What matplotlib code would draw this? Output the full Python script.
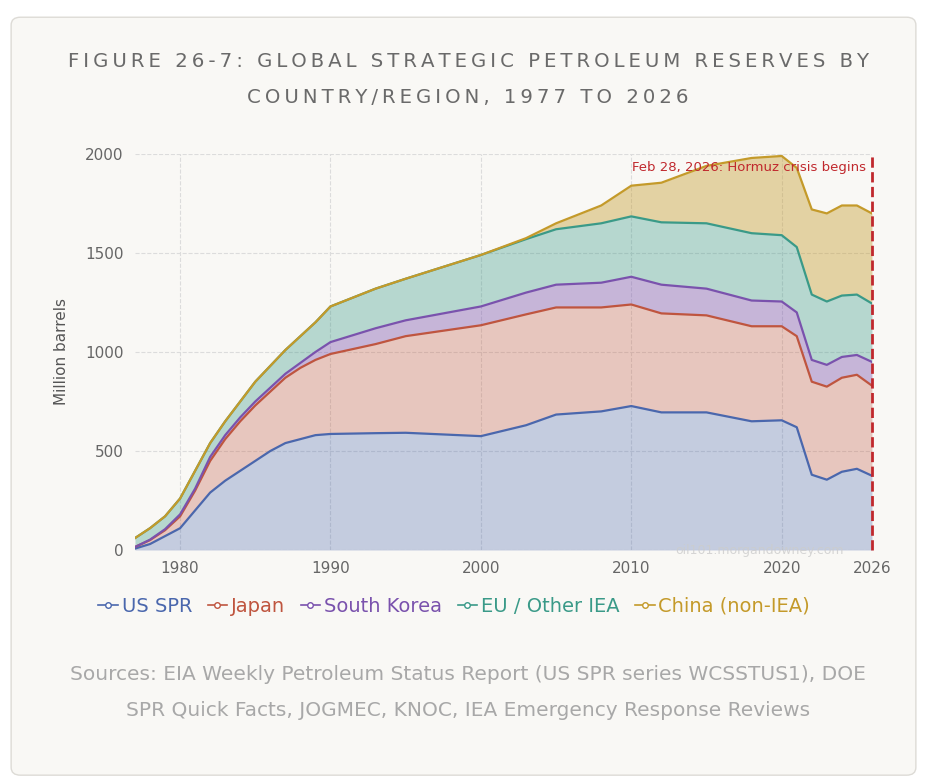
import matplotlib
matplotlib.use("Agg")
import matplotlib.pyplot as plt
from matplotlib.lines import Line2D
from matplotlib.patches import FancyBboxPatch
import numpy as np

years = [1977, 1978, 1979, 1980, 1981, 1982, 1983, 1984, 1985, 1986, 1987, 1988, 1989, 1990,
         1993, 1995, 2000, 2003, 2005, 2008, 2010, 2012, 2015, 2018, 2020, 2021, 2022, 2023,
         2024, 2025, 2026]
us_spr = [7, 30, 70, 110, 200, 290, 350, 400, 450, 500, 540, 560, 580, 586, 590, 592, 575, 630,
          684, 700, 727, 695, 695, 650, 655, 620, 380, 355, 395, 410, 375]
japan = [8, 20, 30, 60, 100, 160, 210, 250, 280, 300, 330, 360, 380, 404, 450, 488, 560, 560,
         541, 525, 513, 500, 490, 480, 475, 460, 470, 470, 475, 475, 455]
south_korea = [0, 2, 5, 10, 10, 20, 20, 20, 20, 20, 20, 25, 40, 60, 80, 80, 95, 110, 115, 125,
               140, 145, 135, 130, 125, 120, 110, 110, 105, 100, 120]
eu_other = [45, 58, 65, 80, 90, 70, 70, 80, 100, 110, 120, 135, 150, 180, 200, 210, 260, 270,
            280, 300, 305, 315, 330, 340, 335, 330, 330, 320, 310, 305, 295]
china = [0, 0, 0, 0, 0, 0, 0, 0, 0, 0, 0, 0, 0, 0, 0, 0, 0, 5, 30, 90, 155, 200, 290, 380, 400,
         400, 430, 445, 455, 450, 455]

labels = ["US SPR", "Japan", "South Korea", "EU / Other IEA", "China (non-IEA)"]
colors = ["#4a67ad", "#bf553f", "#7a52ad", "#3a9a88", "#c49a2a"]
fill_alpha = [0.3, 0.3, 0.4, 0.35, 0.4]

fig = plt.figure(figsize=(9.27, 7.83), dpi=100)
fig.patch.set_facecolor("white")
fig.patches.append(FancyBboxPatch((0.012, 0.01), 0.976, 0.968, boxstyle="round,pad=0,rounding_size=0.01",
                                  transform=fig.transFigure, facecolor="#f9f8f5",
                                  edgecolor="#dddbd6", lw=1, zorder=-1))

ax = fig.add_axes([0.1456, 0.2976, 0.795, 0.5057])
ax.set_facecolor("#f9f8f5")

x = np.array(years)
stack = np.cumsum(np.array([us_spr, japan, south_korea, eu_other, china]), axis=0)
prev = np.zeros(len(x))
for i, (lab, c) in enumerate(zip(labels, colors)):
    ax.fill_between(x, prev, stack[i], color=c, alpha=fill_alpha[i], lw=0)
    ax.plot(x, stack[i], color=c, lw=1.6)
    prev = stack[i]

ax.set_xlim(1977, 2026)
ax.set_ylim(0, 2000)
ax.set_xticks([1980, 1990, 2000, 2010, 2020, 2026])
ax.set_yticks([0, 500, 1000, 1500, 2000])
ax.grid(True, color="#dcdcdc", ls="--", lw=0.8)
ax.set_axisbelow(True)
for s in ax.spines.values():
    s.set_visible(False)
ax.tick_params(length=0, labelsize=11, colors="#666666", pad=8)
ax.set_ylabel("Million barrels", fontsize=11, color="#555555", labelpad=12)

ax.axvline(2026, color="#c0282d", ls="--", lw=2, zorder=5, clip_on=False)
ax.text(2025.6, 1930, "Feb 28, 2026: Hormuz crisis begins", color="#c0282d", fontsize=9.5,
        ha="right", va="center")
ax.text(2018.5, -5, "oil101.morgandowney.com", color="#cccccc", fontsize=9, ha="center",
        va="center", alpha=0.8)


def spaced(s):
    return "\u2009".join(s)


fig.text(0.505, 0.921, spaced("FIGURE 26-7: GLOBAL STRATEGIC PETROLEUM RESERVES BY"),
         ha="center", va="center", fontsize=14.2, color="#6a6a6a")
fig.text(0.505, 0.875, spaced("COUNTRY/REGION, 1977 TO 2026"),
         ha="center", va="center", fontsize=14.2, color="#6a6a6a")

handles = [Line2D([], [], color=c, marker="o", markerfacecolor="white", markersize=4, lw=1.2)
           for c in colors]
leg = fig.legend(handles, labels, loc="center", bbox_to_anchor=(0.49, 0.226), ncol=5,
                 frameon=False, fontsize=14, handlelength=1.0, handletextpad=0.2,
                 columnspacing=0.8)
for t, c in zip(leg.get_texts(), colors):
    t.set_color(c)

fig.text(0.505, 0.139, "Sources: EIA Weekly Petroleum Status Report (US SPR series WCSSTUS1), DOE",
         ha="center", va="center", fontsize=14.5, color="#a8a8a8")
fig.text(0.505, 0.093, "SPR Quick Facts, JOGMEC, KNOC, IEA Emergency Response Reviews",
         ha="center", va="center", fontsize=14.5, color="#a8a8a8")

fig.savefig("out.png", dpi=100)
